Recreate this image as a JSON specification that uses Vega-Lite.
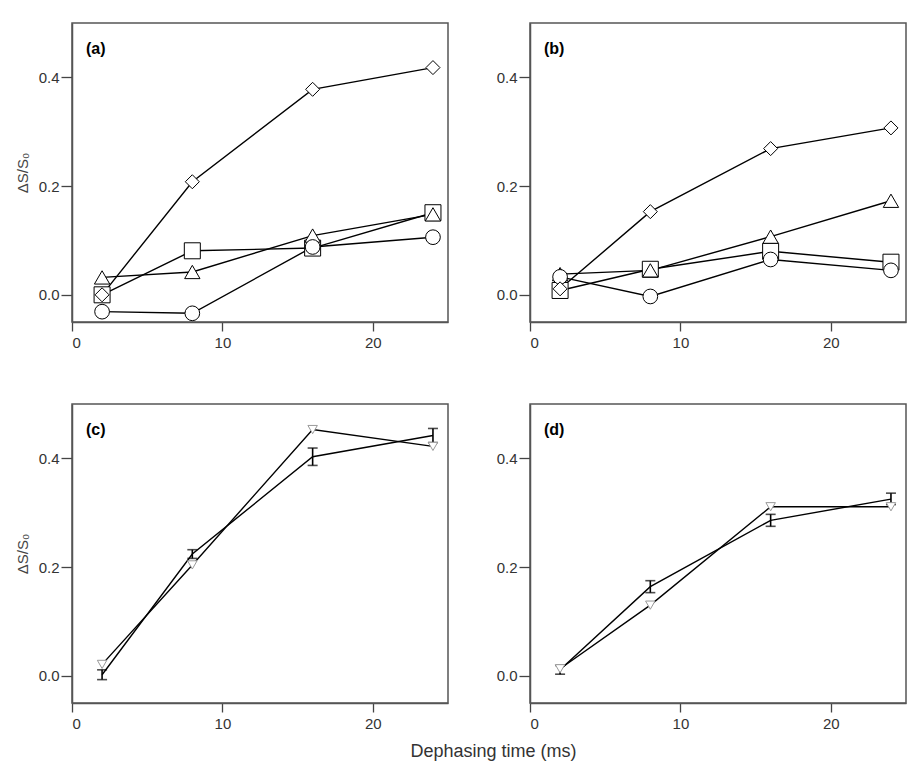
{
  "$schema": "https://vega.github.io/schema/vega-lite/v6.json",
  "background": "white",
  "padding": {"left": 14, "top": 22, "right": 5, "bottom": 5},
  "title": {"text": "Dephasing time (ms)", "orient": "bottom", "anchor": "middle", "fontSize": 18, "fontWeight": "normal", "font": "Liberation Sans", "color": "#333", "offset": 11, "dx": 33},
  "config": {
    "view": {"stroke": "#555", "strokeWidth": 1.5},
    "axis": {"grid": false, "domainColor": "#555", "domainWidth": 1.5, "tickColor": "#444", "tickWidth": 1.3, "labelColor": "#333", "labelFont": "Liberation Sans", "labelFontSize": 15, "titleFont": "Liberation Sans", "titleFontSize": 15, "titleFontWeight": "normal", "titleColor": "#444"}
  },
  "datasets": {
    "a": [
      {"series": "square", "t": 2, "v": 0.0},
      {"series": "square", "t": 8, "v": 0.081},
      {"series": "square", "t": 16, "v": 0.086},
      {"series": "square", "t": 24, "v": 0.151},
      {"series": "triangle-up", "t": 2, "v": 0.032},
      {"series": "triangle-up", "t": 8, "v": 0.042},
      {"series": "triangle-up", "t": 16, "v": 0.109},
      {"series": "triangle-up", "t": 24, "v": 0.148},
      {"series": "circle", "t": 2, "v": -0.031},
      {"series": "circle", "t": 8, "v": -0.034},
      {"series": "circle", "t": 16, "v": 0.088},
      {"series": "circle", "t": 24, "v": 0.106},
      {"series": "diamond", "t": 2, "v": 0.0},
      {"series": "diamond", "t": 8, "v": 0.208},
      {"series": "diamond", "t": 16, "v": 0.378},
      {"series": "diamond", "t": 24, "v": 0.418}
    ],
    "b": [
      {"series": "square", "t": 2, "v": 0.008},
      {"series": "square", "t": 8, "v": 0.047},
      {"series": "square", "t": 16, "v": 0.08},
      {"series": "square", "t": 24, "v": 0.06},
      {"series": "triangle-up", "t": 2, "v": 0.038},
      {"series": "triangle-up", "t": 8, "v": 0.045},
      {"series": "triangle-up", "t": 16, "v": 0.107},
      {"series": "triangle-up", "t": 24, "v": 0.173},
      {"series": "circle", "t": 2, "v": 0.033},
      {"series": "circle", "t": 8, "v": -0.003},
      {"series": "circle", "t": 16, "v": 0.065},
      {"series": "circle", "t": 24, "v": 0.045},
      {"series": "diamond", "t": 2, "v": 0.011},
      {"series": "diamond", "t": 8, "v": 0.153},
      {"series": "diamond", "t": 16, "v": 0.269},
      {"series": "diamond", "t": 24, "v": 0.307}
    ],
    "c": [
      {"series": "mean", "t": 2, "v": 0.002, "lo": -0.007, "hi": 0.011},
      {"series": "mean", "t": 8, "v": 0.224, "lo": 0.216, "hi": 0.232},
      {"series": "mean", "t": 16, "v": 0.403, "lo": 0.387, "hi": 0.419},
      {"series": "mean", "t": 24, "v": 0.442, "lo": 0.429, "hi": 0.455},
      {"series": "tri", "t": 2, "v": 0.021},
      {"series": "tri", "t": 8, "v": 0.204},
      {"series": "tri", "t": 16, "v": 0.453},
      {"series": "tri", "t": 24, "v": 0.422}
    ],
    "d": [
      {"series": "mean", "t": 2, "v": 0.011, "lo": 0.003, "hi": 0.019},
      {"series": "mean", "t": 8, "v": 0.164, "lo": 0.153, "hi": 0.175},
      {"series": "mean", "t": 16, "v": 0.286, "lo": 0.275, "hi": 0.297},
      {"series": "mean", "t": 24, "v": 0.325, "lo": 0.315, "hi": 0.336},
      {"series": "tri", "t": 2, "v": 0.013},
      {"series": "tri", "t": 8, "v": 0.13},
      {"series": "tri", "t": 16, "v": 0.311},
      {"series": "tri", "t": 24, "v": 0.311}
    ]
  },
  "spacing": 52,
  "vconcat": [
    {
      "spacing": 46,
      "hconcat": [
        {
          "width": 376, "height": 299,
          "data": {"name": "a"},
          "layer": [
            {"mark": {"type": "line", "color": "black", "strokeWidth": 1.4},
             "encoding": {
               "x": {"field": "t", "type": "quantitative", "scale": {"domain": [0, 25], "nice": false, "zero": false}, "axis": {"values": [0, 10, 20], "title": null, "tickSize": 9, "labelPadding": 4}},
               "y": {"field": "v", "type": "quantitative", "title": "ΔS/S₀", "scale": {"domain": [-0.05, 0.5], "nice": false, "zero": false}, "axis": {"values": [0, 0.2, 0.4], "format": ".1f", "tickSize": 11, "labelPadding": 2, "titlePadding": 8}},
               "detail": {"field": "series"}}},
            {"mark": {"type": "point", "filled": true, "fill": "white", "fillOpacity": 1, "stroke": "black", "strokeWidth": 1, "opacity": 1},
             "encoding": {
               "x": {"field": "t", "type": "quantitative"},
               "y": {"field": "v", "type": "quantitative", "title": "ΔS/S₀"},
               "shape": {"field": "series", "type": "nominal", "scale": {"domain": ["square", "triangle-up", "circle", "diamond"], "range": ["square", "triangle-up", "circle", "diamond"]}, "legend": null},
               "size": {"field": "series", "type": "nominal", "scale": {"domain": ["square", "triangle-up", "circle", "diamond"], "range": [256, 196, 169, 180]}, "legend": null}}},
            {"data": {"values": [{}]},
             "mark": {"type": "text", "text": "(a)", "font": "Liberation Sans", "fontWeight": "bold", "fontSize": 16, "align": "left", "baseline": "middle", "color": "black"},
             "encoding": {"x": {"datum": 0.93}, "y": {"datum": 0.453, "title": "ΔS/S₀"}}}
          ]
        },
        {
          "width": 376, "height": 299,
          "data": {"name": "b"},
          "layer": [
            {"mark": {"type": "line", "color": "black", "strokeWidth": 1.4},
             "encoding": {
               "x": {"field": "t", "type": "quantitative", "scale": {"domain": [0, 25], "nice": false, "zero": false}, "axis": {"values": [0, 10, 20], "title": null, "tickSize": 9, "labelPadding": 4}},
               "y": {"field": "v", "type": "quantitative", "scale": {"domain": [-0.05, 0.5], "nice": false, "zero": false}, "axis": {"values": [0, 0.2, 0.4], "format": ".1f", "title": null, "tickSize": 11, "labelPadding": 2}},
               "detail": {"field": "series"}}},
            {"mark": {"type": "point", "filled": true, "fill": "white", "fillOpacity": 1, "stroke": "black", "strokeWidth": 1, "opacity": 1},
             "encoding": {
               "x": {"field": "t", "type": "quantitative"},
               "y": {"field": "v", "type": "quantitative"},
               "shape": {"field": "series", "type": "nominal", "scale": {"domain": ["square", "triangle-up", "circle", "diamond"], "range": ["square", "triangle-up", "circle", "diamond"]}, "legend": null},
               "size": {"field": "series", "type": "nominal", "scale": {"domain": ["square", "triangle-up", "circle", "diamond"], "range": [140, 230, 180, 320]}, "legend": null}}},
            {"data": {"values": [{}]},
             "mark": {"type": "text", "text": "(b)", "font": "Liberation Sans", "fontWeight": "bold", "fontSize": 16, "align": "left", "baseline": "middle", "color": "black"},
             "encoding": {"x": {"datum": 0.93}, "y": {"datum": 0.453}}}
          ]
        }
      ]
    },
    {
      "spacing": 46,
      "hconcat": [
        {
          "width": 376, "height": 299,
          "data": {"name": "c"},
          "layer": [
            {"mark": {"type": "line", "color": "black", "strokeWidth": 1.4},
             "encoding": {
               "x": {"field": "t", "type": "quantitative", "scale": {"domain": [0, 25], "nice": false, "zero": false}, "axis": {"values": [0, 10, 20], "title": null, "tickSize": 9, "labelPadding": 4}},
               "y": {"field": "v", "type": "quantitative", "title": "ΔS/S₀", "scale": {"domain": [-0.05, 0.5], "nice": false, "zero": false}, "axis": {"values": [0, 0.2, 0.4], "format": ".1f", "tickSize": 11, "labelPadding": 2, "titlePadding": 8}},
               "detail": {"field": "series"}}},
            {"transform": [{"filter": "datum.series === 'mean'"}],
             "mark": {"type": "errorbar", "color": "black", "thickness": 1.6, "ticks": {"size": 10, "thickness": 1.6, "color": "black"}},
             "encoding": {
               "x": {"field": "t", "type": "quantitative"},
               "y": {"field": "lo", "type": "quantitative", "title": "ΔS/S₀"},
               "y2": {"field": "hi"}}},
            {"transform": [{"filter": "datum.series === 'tri'"}],
             "mark": {"type": "point", "shape": "triangle-down", "size": 90, "filled": true, "fill": "white", "fillOpacity": 1, "stroke": "#999", "strokeWidth": 1, "opacity": 1},
             "encoding": {
               "x": {"field": "t", "type": "quantitative"},
               "y": {"field": "v", "type": "quantitative", "title": "ΔS/S₀"}}},
            {"data": {"values": [{}]},
             "mark": {"type": "text", "text": "(c)", "font": "Liberation Sans", "fontWeight": "bold", "fontSize": 16, "align": "left", "baseline": "middle", "color": "black"},
             "encoding": {"x": {"datum": 0.93}, "y": {"datum": 0.453, "title": "ΔS/S₀"}}}
          ]
        },
        {
          "width": 376, "height": 299,
          "data": {"name": "d"},
          "layer": [
            {"mark": {"type": "line", "color": "black", "strokeWidth": 1.4},
             "encoding": {
               "x": {"field": "t", "type": "quantitative", "scale": {"domain": [0, 25], "nice": false, "zero": false}, "axis": {"values": [0, 10, 20], "title": null, "tickSize": 9, "labelPadding": 4}},
               "y": {"field": "v", "type": "quantitative", "scale": {"domain": [-0.05, 0.5], "nice": false, "zero": false}, "axis": {"values": [0, 0.2, 0.4], "format": ".1f", "title": null, "tickSize": 11, "labelPadding": 2}},
               "detail": {"field": "series"}}},
            {"transform": [{"filter": "datum.series === 'mean'"}],
             "mark": {"type": "errorbar", "color": "black", "thickness": 1.6, "ticks": {"size": 10, "thickness": 1.6, "color": "black"}},
             "encoding": {
               "x": {"field": "t", "type": "quantitative"},
               "y": {"field": "lo", "type": "quantitative"},
               "y2": {"field": "hi"}}},
            {"transform": [{"filter": "datum.series === 'tri'"}],
             "mark": {"type": "point", "shape": "triangle-down", "size": 90, "filled": true, "fill": "white", "fillOpacity": 1, "stroke": "#999", "strokeWidth": 1, "opacity": 1},
             "encoding": {
               "x": {"field": "t", "type": "quantitative"},
               "y": {"field": "v", "type": "quantitative"}}},
            {"data": {"values": [{}]},
             "mark": {"type": "text", "text": "(d)", "font": "Liberation Sans", "fontWeight": "bold", "fontSize": 16, "align": "left", "baseline": "middle", "color": "black"},
             "encoding": {"x": {"datum": 0.93}, "y": {"datum": 0.453}}}
          ]
        }
      ]
    }
  ]
}
